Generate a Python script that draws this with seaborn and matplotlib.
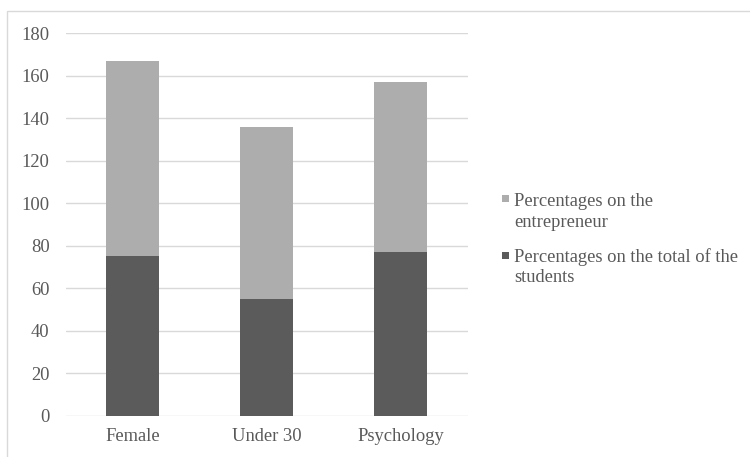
import matplotlib
matplotlib.use("Agg")
import matplotlib.pyplot as plt
import seaborn as sns
import pandas as pd
from matplotlib.patches import Rectangle

categories = ["Female", "Under 30", "Psychology"]
students_vals = [75, 55, 77]          # Percentages on the total of the students (bottom, dark)
entrepreneur_vals = [92, 81, 80]      # Percentages on the entrepreneur (top, light)
y_ticks = [0, 20, 40, 60, 80, 100, 120, 140, 160, 180]

label_top = "Percentages on the\nentrepreneur"
label_bottom = "Percentages on the total of the\nstudents"

dark = "#5b5b5b"
light = "#adadad"
text_col = "#595959"
grid_col = "#d9d9d9"
FS = 13.3

sns.set_theme(style="white")
plt.rcParams["font.family"] = ["Liberation Serif", "DejaVu Serif"]

df = pd.DataFrame({
    "cat": categories,
    "students": students_vals,
    "entrepreneur": entrepreneur_vals,
})
df["total"] = df["students"] + df["entrepreneur"]

W, H = 750, 457
fig = plt.figure(figsize=(W / 100, H / 100), dpi=100)
ax = fig.add_axes([65.5 / W, (H - 416) / H, 402 / W, 383 / H])

sns.barplot(data=df, x="cat", y="total", color=light, width=0.4, ax=ax,
            saturation=1, edgecolor="none", zorder=3)
sns.barplot(data=df, x="cat", y="students", color=dark, width=0.4, ax=ax,
            saturation=1, edgecolor="none", zorder=4)

ax.set_xlim(-0.5, 2.5)
ax.set_ylim(0, 180)
ax.set_yticks(y_ticks)
ax.set_xlabel("")
ax.set_ylabel("")
for s in ax.spines.values():
    s.set_visible(False)
ax.grid(axis="y", color=grid_col, linewidth=1, zorder=0)
ax.grid(axis="x", visible=False)
ax.set_axisbelow(True)
ax.tick_params(axis="y", length=0, pad=11.5, labelsize=FS, labelcolor=text_col)
ax.tick_params(axis="x", length=0, pad=8.5, labelsize=FS, labelcolor=text_col)

# outer chart frame
fig.patches.append(Rectangle((7 / W, -0.1), 1.2, (H - 11) / H + 0.1,
                             transform=fig.transFigure, fill=False,
                             edgecolor=grid_col, linewidth=1))

# legend (Excel style: marker aligned with first text line)
def px(x, y):
    return x / W, (H - y) / H

for col, lab, sq_top, last_base in [(light, label_top, 195, 226.7),
                                    (dark, label_bottom, 252, 282.5)]:
    x0, y0 = px(502, sq_top + 7)
    fig.patches.append(Rectangle((x0, y0), 7 / W, 7 / H,
                                 transform=fig.transFigure,
                                 facecolor=col, edgecolor="none"))
    tx, ty = px(514, last_base)
    fig.text(tx, ty, lab, ha="left", va="baseline", fontsize=FS,
             color=text_col, linespacing=1.25)

fig.savefig("out.png", dpi=100)
